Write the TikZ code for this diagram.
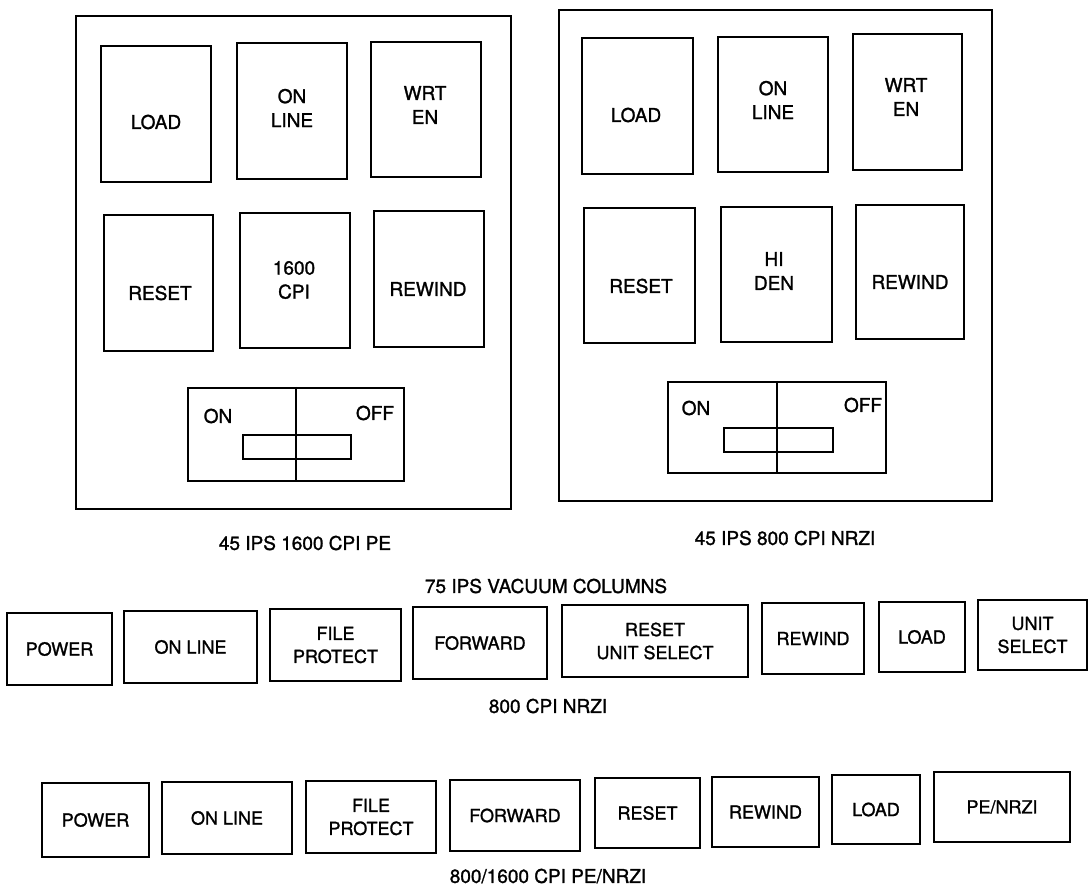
\documentclass[tikz,border=0pt]{standalone}
\usepackage{fontspec}
\setmainfont{TeX Gyre Heros}[BoldFont=TeX Gyre Heros, BoldFeatures={FakeBold=1.3}]
\begin{document}
\begin{tikzpicture}[x=1pt,y=-1pt,
  panelbox/.style={draw, line width=2.6pt},
  btnbox/.style={draw, line width=2.6pt, inner sep=0pt, align=center,
    font=\fontsize{18}{23}\selectfont\bfseries},
  lbl/.style={inner sep=0pt, align=center, font=\fontsize{19}{24}\selectfont\bfseries},
  captext/.style={inner sep=0pt, font=\fontsize{19}{20}\selectfont\bfseries},
  swbox/.style={draw, line width=2.2pt},
]
\newcommand\mybtn[6]{\node[btnbox, minimum width={#4-#2}, minimum height={#5-#3}] (#1) at ({(#2+#4)/2},{(#3+#5)/2}) {#6};}
\useasboundingbox (0,0) rectangle (1090,893);

% ---------- Panel 1 ----------
\node[panelbox, minimum width=435, minimum height=493, inner sep=0pt] (panA) at (293.5,262.5) {};
\mybtn{aload}{101}{46}{211}{182}{}
\mybtn{aonl}{237}{43}{347}{179}{}
\mybtn{awrt}{371}{42}{481}{177}{}
\mybtn{areset}{104}{215}{213}{351}{}
\mybtn{acpi}{240}{213}{350}{348}{}
\mybtn{arew}{374}{211}{484}{347}{}
\node[lbl] (taload) at (156,122) {LOAD};
\node[lbl] (taonl) at (292,108) {ON\\LINE};
\node[lbl] (tawrt) at (425,105) {WRT\\EN};
\node[lbl] (tareset) at (160,293) {RESET};
\node[lbl] (tacpi) at (294,280) {1600\\CPI};
\node[lbl] (tarew) at (428,289) {REWIND};
\node[swbox, minimum width=216, minimum height=93, inner sep=0pt] (asw) at (296,434.5) {};
\node[swbox, minimum width=108, minimum height=24, inner sep=0pt] (aslot) at (297,447) {};
\draw[line width=1.8pt] (asw.north) -- (asw.south);
\node[lbl] (taon) at (218,416) {ON};
\node[lbl] (taoff) at (375,413) {OFF};

% ---------- Panel 2 ----------
\node[panelbox, minimum width=433, minimum height=491, inner sep=0pt] (panB) at (775.5,255.5) {};
\mybtn{bload}{582}{38}{693}{174}{}
\mybtn{bonl}{718}{37}{828}{172}{}
\mybtn{bwrt}{853}{34}{962}{170}{}
\mybtn{breset}{584}{208}{695}{343}{}
\mybtn{bden}{721}{207}{832}{342}{}
\mybtn{brew}{856}{205}{964}{339}{}
\node[lbl] (tbload) at (636,115) {LOAD};
\node[lbl] (tbonl) at (773,100) {ON\\LINE};
\node[lbl] (tbwrt) at (906,97) {WRT\\EN};
\node[lbl] (tbreset) at (641,286) {RESET};
\node[lbl] (tbden) at (774,271) {HI\\DEN};
\node[lbl] (tbrew) at (910,282) {REWIND};
\node[swbox, minimum width=218, minimum height=91, inner sep=0pt] (bsw) at (777,427.5) {};
\node[swbox, minimum width=109, minimum height=24, inner sep=0pt] (bslot) at (778.5,440) {};
\draw[line width=1.8pt] (bsw.north) -- (bsw.south);
\node[lbl] (tbon) at (696,408) {ON};
\node[lbl] (tboff) at (863,405) {OFF};

% ---------- Captions ----------
\node[captext] (capA) at (305,543) {45 IPS 1600 CPI PE};
\node[captext] (capB) at (785,538) {45 IPS 800 CPI NRZI};
\node[captext] (capC) at (546,586) {75 IPS VACUUM COLUMNS};

% ---------- Row 1 ----------
\mybtn{rpow}{7}{613}{112}{685}{POWER}
\mybtn{ronl}{124}{611}{257}{683}{ON LINE}
\mybtn{rfile}{270}{609}{401}{681}{FILE\\PROTECT}
\mybtn{rfwd}{413}{607}{547}{679}{FORWARD}
\mybtn{rrus}{562}{605}{748}{677}{RESET\\UNIT SELECT}
\mybtn{rrew}{762}{603}{864}{674}{REWIND}
\mybtn{rload}{879}{602}{965}{672}{LOAD}
\mybtn{runit}{978}{600}{1087}{670}{UNIT\\SELECT}
\node[captext] (capD) at (548,706) {800 CPI NRZI};

% ---------- Row 2 ----------
\mybtn{spow}{42}{783}{149}{857}{POWER}
\mybtn{sonl}{162}{782}{292}{854}{ON LINE}
\mybtn{sfile}{306}{781}{436}{853}{FILE\\PROTECT}
\mybtn{sfwd}{450}{780}{580}{851}{FORWARD}
\mybtn{sreset}{595}{778}{700}{848}{RESET}
\mybtn{srew}{712}{777}{819}{847}{REWIND}
\mybtn{sload}{832}{775}{920}{844}{LOAD}
\mybtn{spe}{934}{772}{1070}{842}{PE/NRZI}
\node[captext] (capE) at (548,876) {800/1600 CPI PE/NRZI};
\end{tikzpicture}
\end{document}
